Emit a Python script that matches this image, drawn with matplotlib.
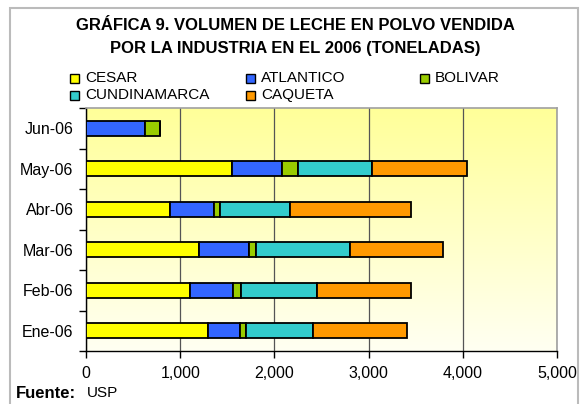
"""Horizontal stacked bar chart of powdered milk volume sold, 2006."""

import matplotlib

matplotlib.use("Agg")

import matplotlib.pyplot as plt
import numpy as np
from matplotlib.colors import LinearSegmentedColormap
from matplotlib.patches import Rectangle
from matplotlib.ticker import FuncFormatter, MultipleLocator

plt.rcParams["font.family"] = ["Liberation Sans", "DejaVu Sans"]

months = ["Ene-06", "Feb-06", "Mar-06", "Abr-06", "May-06", "Jun-06"]
series_names = ["CESAR", "ATLANTICO", "BOLIVAR", "CUNDINAMARCA", "CAQUETA"]
cesar = [1300, 1100, 1200, 890, 1545, 0]
atlantico = [330, 460, 530, 470, 535, 630]
bolivar = [70, 90, 70, 65, 170, 155]
cundinamarca = [705, 805, 1000, 740, 790, 0]
caqueta = [1000, 990, 985, 1290, 1000, 0]
colors = ["#FFFF00", "#3366FF", "#99CC00", "#33CCCC", "#FF9900"]

figure = plt.figure(figsize=(5.82, 4.04), dpi=100)
axis = figure.add_axes([86 / 582, 1 - 351 / 404, 471 / 582, 243 / 404])

# Yellow-to-cream gradient behind the bars.
gradient = LinearSegmentedColormap.from_list("bg", ["#FFFFF2", "#FFFF99"])
axis.imshow(
    np.linspace(0, 1, 256).reshape(-1, 1),
    cmap=gradient,
    origin="lower",
    aspect="auto",
    extent=(0, 5000, -0.5, 5.5),
    zorder=0,
)

positions = np.arange(len(months))
left = np.zeros(len(months))
for values, color in zip([cesar, atlantico, bolivar, cundinamarca, caqueta], colors):
    axis.barh(
        positions,
        values,
        left=left,
        height=0.38,
        color=color,
        edgecolor="black",
        linewidth=1.3,
        zorder=3,
    )
    left += np.array(values)

axis.set_xlim(0, 5000)
axis.set_ylim(-0.5, 5.5)
axis.xaxis.set_major_locator(MultipleLocator(1000))
axis.xaxis.set_major_formatter(FuncFormatter(lambda value, _: f"{value:,.0f}"))
axis.grid(axis="x", color="#555555", linewidth=0.9, zorder=1)
axis.set_yticks(positions)
axis.set_yticklabels(months)
axis.set_yticks(np.arange(-0.5, 6, 1), minor=True)
axis.tick_params(axis="y", which="major", length=0, pad=9, labelsize=11.5)
axis.tick_params(axis="y", which="minor", length=5, direction="out", width=1)
axis.tick_params(axis="x", length=5, direction="out", width=1, labelsize=11.5, pad=6)

for side in ("top", "right"):
    axis.spines[side].set_color("#A0A0A0")
    axis.spines[side].set_linewidth(1.2)
for side in ("left", "bottom"):
    axis.spines[side].set_color("black")
    axis.spines[side].set_linewidth(1)

figure.text(
    295 / 582,
    1 - 25 / 404,
    "GRÁFICA 9. VOLUMEN DE LECHE EN POLVO VENDIDA",
    ha="center",
    va="center",
    fontsize=12,
    fontweight="bold",
)
figure.text(
    295 / 582,
    1 - 48 / 404,
    "POR LA INDUSTRIA EN EL 2006 (TONELADAS)",
    ha="center",
    va="center",
    fontsize=12,
    fontweight="bold",
)

# Legend entries placed by hand to follow the original column layout.
legend_slots = [(74, 78), (250, 78), (424, 78), (74, 95), (250, 95)]
for name, color, (x_pixel, y_pixel) in zip(series_names, colors, legend_slots):
    figure.patches.append(
        Rectangle(
            ((x_pixel - 4.5) / 582, 1 - (y_pixel + 4.5) / 404),
            9 / 582,
            9 / 404,
            transform=figure.transFigure,
            facecolor=color,
            edgecolor="black",
            linewidth=1,
        )
    )
    figure.text(
        (x_pixel + 11) / 582,
        1 - y_pixel / 404,
        name,
        ha="left",
        va="center",
        fontsize=11,
    )

figure.text(16 / 582, 1 - 393 / 404, "Fuente:", fontsize=12, fontweight="bold", va="center")
figure.text(87 / 582, 1 - 393 / 404, "USP", fontsize=11, va="center")

figure.patches.append(
    Rectangle(
        (10 / 582, -0.02),
        568 / 582,
        1 - 8 / 404 + 0.02,
        transform=figure.transFigure,
        facecolor="none",
        edgecolor="#BBBBBB",
        linewidth=1.5,
    )
)

figure.savefig("out.png", dpi=100)
